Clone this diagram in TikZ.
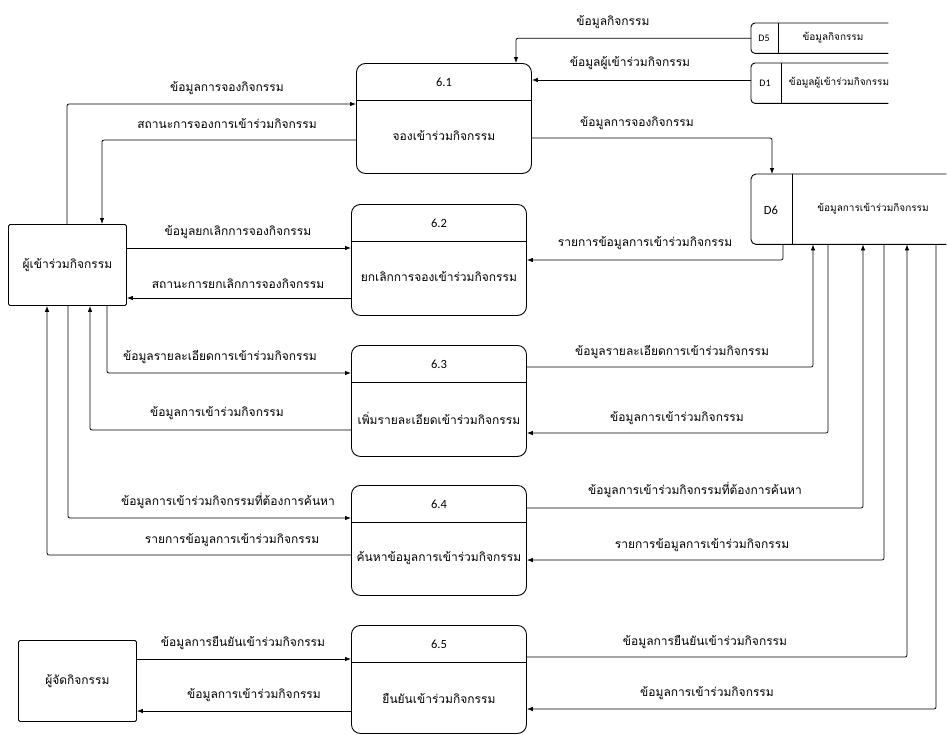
\documentclass[tikz,border=0pt]{standalone}
\usepackage{fontspec}
\newfontfamily\thai[Script=Thai]{Loma}
\newfontfamily\latn{Carlito}
\usetikzlibrary{arrows.meta}
\newcommand\mkproc[6]{%
  \node[proc, minimum height=#4pt] (#1) at (#2,#3) {};
  \draw[boxline] ([yshift=-37pt]#1.north west) -- ([yshift=-37pt]#1.north east);
  \node[num] (#1n) at ([yshift=-19pt]#1.north) {#5};
  \node[lbl] (#1t) at ([yshift=-73pt]#1.north) {#6};}
\begin{document}
\begin{tikzpicture}[x=1pt,y=-1pt,
  every node/.style={inner sep=0pt},
  lbl/.style={font=\thai\fontsize{12}{14}\selectfont},
  small/.style={font=\thai\fontsize{10}{12}\selectfont},
  num/.style={font=\latn\fontsize{12.5}{14}\selectfont},
  snum/.style={font=\latn\fontsize{10}{12}\selectfont},
  boxline/.style={line width=0.9pt},
  proc/.style={draw, boxline, anchor=north west, rounded corners=9pt, minimum width=175pt},
  ent/.style={draw, boxline, anchor=north west, rounded corners=1.5pt, minimum width=118pt, minimum height=81pt, lbl},
  flow/.style={draw, line width=0.75pt, rounded corners=2pt, -{Latex[length=6pt,width=4.5pt]}}]
\useasboundingbox (0,0) rectangle (947,734);

% external entities
\node[ent] (e1) at (8,224) {ผู้เข้าร่วมกิจกรรม};
\node[ent] (e2) at (18,640) {ผู้จัดกิจกรรม};

% processes
\mkproc{p1}{356}{63}{110}{6.1}{จองเข้าร่วมกิจกรรม}
\mkproc{p2}{351}{204}{111}{6.2}{ยกเลิกการจองเข้าร่วมกิจกรรม}
\mkproc{p3}{351}{345}{111}{6.3}{เพิ่มรายละเอียดเข้าร่วมกิจกรรม}
\mkproc{p4}{351}{485}{110}{6.4}{ค้นหาข้อมูลการเข้าร่วมกิจกรรม}
\mkproc{p5}{351}{625}{108}{6.5}{ยืนยันเข้าร่วมกิจกรรม}

% data stores
\node[anchor=north west, minimum width=137pt, minimum height=30pt] (d5) at (751,23) {};
\draw[boxline, rounded corners=4pt] (d5.north east) -- (d5.north west) -- (d5.south west) -- (d5.south east);
\draw[boxline] (d5.north west -| 778,0) -- (d5.south west -| 778,0);
\node[snum] (d5id) at (764,38) {D5};
\node[small] (d5t) at (833,38) {ข้อมูลกิจกรรม};

\node[anchor=north west, minimum width=137pt, minimum height=40pt] (d1) at (751,63) {};
\draw[boxline, rounded corners=4pt] (d1.north east) -- (d1.north west) -- (d1.south west) -- (d1.south east);
\draw[boxline] (d1.north west -| 781,0) -- (d1.south west -| 781,0);
\node[snum] (d1id) at (765,83) {D1};
\node[small] (d1t) at (839,83) {ข้อมูลผู้เข้าร่วมกิจกรรม};

\node[anchor=north west, minimum width=195pt, minimum height=70pt] (d6) at (751,174) {};
\draw[boxline, rounded corners=5pt] (d6.north east) -- (d6.north west) -- (d6.south west) -- (d6.south east);
\draw[boxline] (d6.north west -| 792,0) -- (d6.south west -| 792,0);
\node[num] (d6id) at (771,210) {D6};
\node[small] (d6t) at (873,209) {ข้อมูลการเข้าร่วมกิจกรรม};

% flows: left side
\draw[flow] (e1.north -| 67,0) |- (p1.west |- 0,104);
\node[lbl] (l1) at (227,88) {ข้อมูลการจองกิจกรรม};
\draw[flow] (p1.west |- 0,140) -| (e1.north -| 102,0);
\node[lbl] (l2) at (227,124) {สถานะการจองการเข้าร่วมกิจกรรม};
\draw[flow] (e1.east |- 0,248) -- (p2.west |- 0,248);
\node[lbl] (l3) at (238,232) {ข้อมูลยกเลิกการจองกิจกรรม};
\draw[flow] (p2.west |- 0,298) -- (e1.east |- 0,298);
\node[lbl] (l4) at (238,284) {สถานะการยกเลิกการจองกิจกรรม};
\draw[flow] (e1.south -| 107,0) |- (p3.west |- 0,373);
\node[lbl] (l5) at (220,357) {ข้อมูลรายละเอียดการเข้าร่วมกิจกรรม};
\draw[flow] (p3.west |- 0,430) -| (e1.south -| 90,0);
\node[lbl] (l6) at (217,413) {ข้อมูลการเข้าร่วมกิจกรรม};
\draw[flow] (e1.south -| 68,0) |- (p4.west |- 0,518);
\node[lbl] (l7) at (228,501) {ข้อมูลการเข้าร่วมกิจกรรมที่ต้องการค้นหา};
\draw[flow] (p4.west |- 0,555) -| (e1.south -| 47,0);
\node[lbl] (l8) at (232,540) {รายการข้อมูลการเข้าร่วมกิจกรรม};
\draw[flow] (e2.east |- 0,659) -- (p5.west |- 0,659);
\node[lbl] (l9) at (243,643) {ข้อมูลการยืนยันเข้าร่วมกิจกรรม};
\draw[flow] (p5.west |- 0,711) -- (e2.east |- 0,711);
\node[lbl] (l10) at (254,695) {ข้อมูลการเข้าร่วมกิจกรรม};

% flows: top right
\draw[flow] (d5.west) -| (p1.north -| 516,0);
\node[lbl] (l11) at (613,22) {ข้อมูลกิจกรรม};
\draw[flow] (d1.west |- 0,80) -- (p1.east |- 0,80);
\node[lbl] (l12) at (630,63) {ข้อมูลผู้เข้าร่วมกิจกรรม};

% flows: D6
\draw[flow] (p1.east |- 0,138) -| (d6.north -| 772,0);
\node[lbl] (l13) at (637,123) {ข้อมูลการจองกิจกรรม};
\draw[flow] (d6.south -| 783,0) |- (p2.east |- 0,260);
\node[lbl] (l14) at (645,243) {รายการข้อมูลการเข้าร่วมกิจกรรม};
\draw[flow] (p3.east |- 0,367) -| (d6.south -| 813,0);
\node[lbl] (l15) at (672,352) {ข้อมูลรายละเอียดการเข้าร่วมกิจกรรม};
\draw[flow] (d6.south -| 828,0) |- (p3.east |- 0,433);
\node[lbl] (l16) at (677,418) {ข้อมูลการเข้าร่วมกิจกรรม};
\draw[flow] (p4.east |- 0,508) -| (d6.south -| 863,0);
\node[lbl] (l17) at (695,490) {ข้อมูลการเข้าร่วมกิจกรรมที่ต้องการค้นหา};
\draw[flow] (d6.south -| 884,0) |- (p4.east |- 0,560);
\node[lbl] (l18) at (702,545) {รายการข้อมูลการเข้าร่วมกิจกรรม};
\draw[flow] (p5.east |- 0,657) -| (d6.south -| 907,0);
\node[lbl] (l19) at (705,642) {ข้อมูลการยืนยันเข้าร่วมกิจกรรม};
\draw[flow] (d6.south -| 936,0) |- (p5.east |- 0,709);
\node[lbl] (l20) at (707,693) {ข้อมูลการเข้าร่วมกิจกรรม};
\end{tikzpicture}
\end{document}
